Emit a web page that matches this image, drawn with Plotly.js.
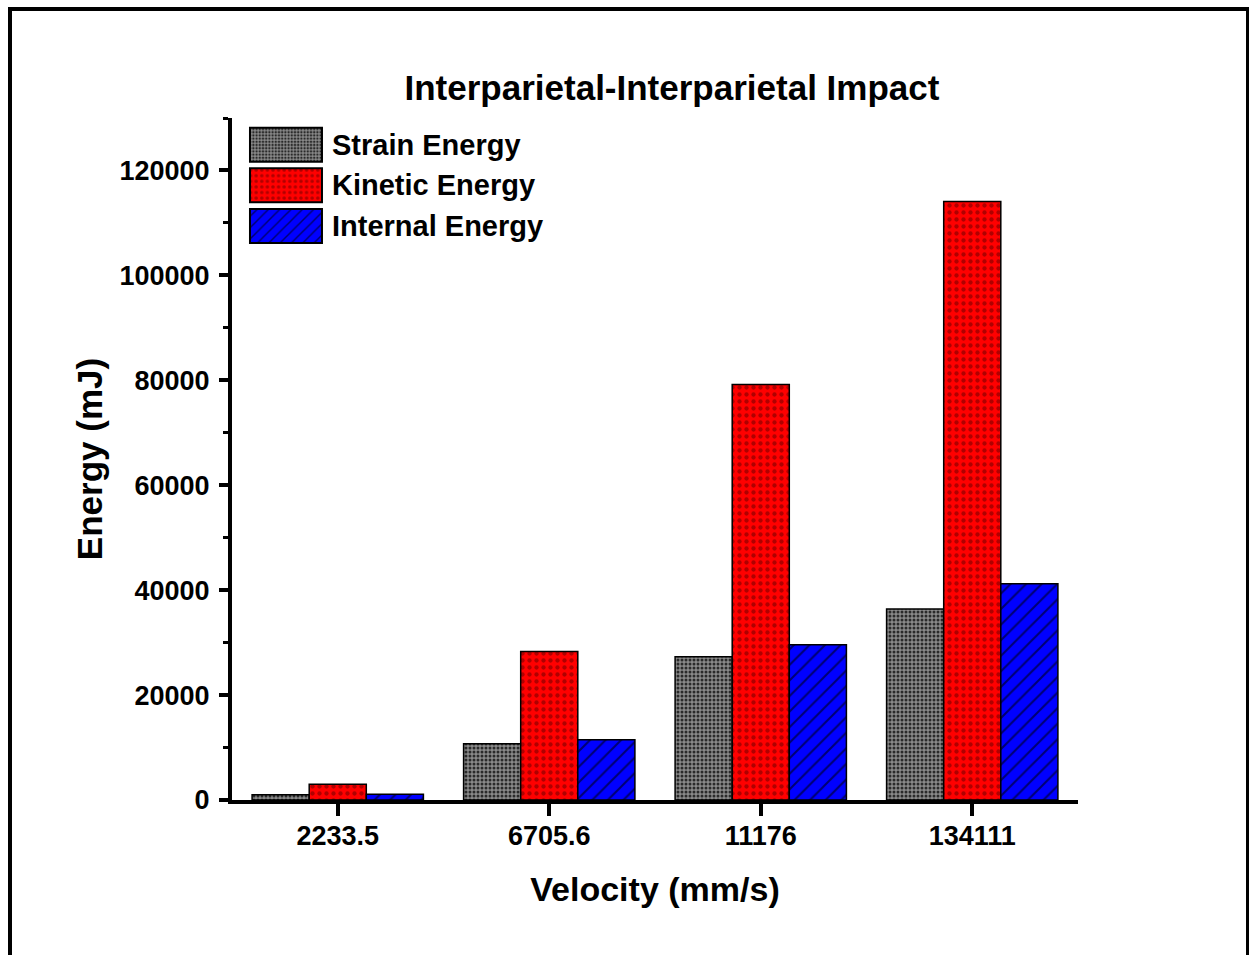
<!DOCTYPE html>
<html>
<head>
<meta charset="utf-8">
<script src="https://cdn.plot.ly/plotly-3.0.1.min.js"></script>
<style>
  html, body { margin: 0; padding: 0; background: #fff; overflow: hidden; }
  #chart { position: absolute; left: 0; top: 0; width: 1249px; height: 955px; }
  #frame { position: absolute; left: 8px; top: 7px; width: 1234px; height: 1000px;
           border-left: 4px solid #000; border-top: 4px solid #000; border-right: 4px solid #000;
           pointer-events: none; }
</style>
</head>
<body>
<div id="chart"></div>
<div id="frame"></div>
<script>
// Data
const categories = ["2233.5", "6705.6", "11176", "134111"];
const strainEnergy   = [1000, 10700, 27300, 36400];
const kineticEnergy  = [3000, 28300, 79200, 114100];
const internalEnergy = [1100, 11500, 29600, 41200];
const seriesNames = ["Strain Energy", "Kinetic Energy", "Internal Energy"];
const yTicks = [0, 20000, 40000, 60000, 80000, 100000, 120000];

const FONT = "Liberation Sans, Arial, sans-serif";

function barTrace(name, values, bg, fg, shape, size, solidity) {
  return {
    type: "bar",
    name: "<b>" + name + "</b>",
    x: categories,
    y: values,
    marker: {
      color: bg,
      line: { color: "#000", width: 1.5 },
      pattern: { shape: shape, bgcolor: bg, fgcolor: fg, size: size, solidity: solidity, fillmode: "replace" }
    }
  };
}

const data = [
  barTrace(seriesNames[0], strainEnergy, "#8a8a8a", "#2a2a2a", ".", 4, 0.45),
  barTrace(seriesNames[1], kineticEnergy, "#ff0000", "#b00000", ".", 7, 0.3),
  barTrace(seriesNames[2], internalEnergy, "#0000ff", "#000070", "/", 11, 0.18)
];

const layout = {
  width: 1249,
  height: 955,
  paper_bgcolor: "#fff",
  plot_bgcolor: "#fff",
  margin: { l: 232, r: 171, t: 118, b: 155, pad: 0 },
  barmode: "group",
  bargap: 0.19,
  bargroupgap: 0,
  font: { family: FONT, color: "#000" },
  title: {
    text: "<b>Interparietal-Interparietal Impact</b>",
    font: { family: FONT, size: 35, color: "#000" },
    x: 0.538, xanchor: "center", xref: "container",
    y: 0.908, yanchor: "middle", yref: "container"
  },
  xaxis: {
    type: "category",
    range: [-0.5, 3.5],
    tickvals: categories,
    ticktext: categories.map(c => "<b>" + c + "</b>"),
    showline: true, linecolor: "#000", linewidth: 4,
    ticks: "outside", ticklen: 12, tickwidth: 4, tickcolor: "#000",
    tickfont: { family: FONT, size: 27, color: "#000" },
    ticklabelstandoff: -3,
    showgrid: false, zeroline: false,
    title: { text: "<b>Velocity (mm/s)</b>", font: { family: FONT, size: 34, color: "#000" }, standoff: 28 }
  },
  yaxis: {
    range: [0, 130000],
    tickvals: yTicks,
    ticktext: yTicks.map(v => "<b>" + v + "</b>"),
    showline: true, linecolor: "#000", linewidth: 4,
    ticks: "outside", ticklen: 9, tickwidth: 4, tickcolor: "#000",
    minor: { dtick: 10000, tick0: 0, ticks: "outside", ticklen: 5, tickwidth: 3, tickcolor: "#000", showgrid: false },
    tickfont: { family: FONT, size: 27, color: "#000" },
    ticklabelstandoff: 4,
    showgrid: false, zeroline: false,
    title: { text: "<b>Energy (mJ)</b>", font: { family: FONT, size: 35, color: "#000" }, standoff: 7 }
  },
  showlegend: true,
  legend: {
    x: 0.0118, y: 1.0, xanchor: "left", yanchor: "top",
    bgcolor: "rgba(0,0,0,0)", borderwidth: 0,
    font: { family: FONT, size: 29, color: "#000" },
    itemwidth: 80,
    tracegroupgap: 0,
    traceorder: "normal"
  }
};

function enlargeLegendSwatches(gd) {
  const legendItems = gd.querySelectorAll(".legend .traces");
  legendItems.forEach(item => {
    const path = item.querySelector(".legendpoints path");
    const text = item.querySelector("text.legendtext");
    if (!path || !text) return;
    const tb = text.getBoundingClientRect();
    const cy = tb.top + tb.height / 2;
    const left = tb.left - 82, right = tb.left - 10;
    const top = cy - 17, bottom = cy + 17;
    const m = path.getScreenCTM().inverse();
    const pt = gd.querySelector("svg.main-svg").createSVGPoint();
    pt.x = left; pt.y = top;
    const a = pt.matrixTransform(m);
    pt.x = right; pt.y = bottom;
    const b = pt.matrixTransform(m);
    path.setAttribute("d", "M" + a.x + "," + a.y + "H" + b.x + "V" + b.y + "H" + a.x + "Z");
    path.style.strokeWidth = "2px";
    path.style.stroke = "#000";
  });
}

Plotly.newPlot("chart", data, layout, { displayModeBar: false, staticPlot: true })
  .then(gd => enlargeLegendSwatches(gd));
</script>
</body>
</html>
